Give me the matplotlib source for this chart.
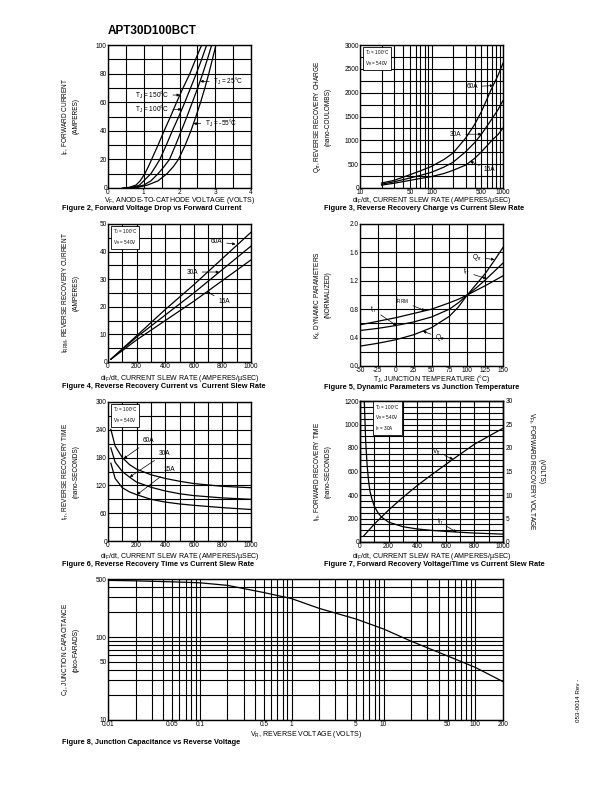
import matplotlib
matplotlib.use("Agg")
import matplotlib.pyplot as plt
from matplotlib.ticker import MultipleLocator, FixedLocator, LogLocator, NullFormatter, FuncFormatter

plt.rcParams['font.family'] = ['Liberation Sans', 'DejaVu Sans']
plt.rcParams['mathtext.fontset'] = 'custom'
plt.rcParams['mathtext.rm'] = 'Liberation Sans'
plt.rcParams['mathtext.it'] = 'Liberation Sans:italic'
plt.rcParams['axes.unicode_minus'] = False

# ---- Figure 2: forward voltage vs forward current ----
if_pts = [0, 0.5, 2, 5, 10, 15, 20, 30, 40, 50, 60, 70, 80, 90, 100]
vf_150 = [0.40, 0.60, 0.78, 0.90, 1.03, 1.13, 1.22, 1.40, 1.57, 1.75, 1.92, 2.10, 2.29, 2.45, 2.62]
vf_100 = [0.45, 0.68, 0.88, 1.00, 1.20, 1.33, 1.45, 1.63, 1.80, 1.98, 2.15, 2.31, 2.47, 2.62, 2.76]
vf_25 = [0.50, 0.76, 1.00, 1.20, 1.40, 1.57, 1.72, 1.89, 2.05, 2.21, 2.36, 2.51, 2.65, 2.78, 2.90]
vf_m55 = [0.55, 0.84, 1.10, 1.40, 1.65, 1.83, 1.97, 2.16, 2.32, 2.46, 2.59, 2.71, 2.82, 2.92, 3.02]

# ---- Figure 3: Qrr vs di/dt ----
slew_q = [20, 30, 50, 70, 100, 150, 200, 300, 400, 500, 700, 850, 1000]
qrr_60 = [105, 160, 279, 360, 453, 600, 733, 1046, 1330, 1605, 2100, 2360, 2620]
qrr_30 = [80, 130, 210, 265, 330, 440, 540, 760, 950, 1130, 1450, 1640, 1835]
qrr_15 = [60, 100, 160, 200, 240, 305, 370, 480, 620, 760, 1000, 1120, 1256]

# ---- Figure 4: IRRM vs di/dt ----
slew_i = [20, 200, 400, 600, 800, 1000]
irrm_60 = [1, 9.5, 19, 28, 37.5, 47]
irrm_30 = [1, 9, 17, 25, 33.5, 42]
irrm_15 = [1, 8, 15, 22, 29.5, 37]

# ---- Figure 5: dynamic parameters vs junction temperature ----
tj = [-50, -25, 0, 25, 50, 75, 87.5, 100, 112.5, 125, 137.5, 150]
kf_qrr = [0.28, 0.32, 0.37, 0.44, 0.54, 0.70, 0.83, 1.0, 1.15, 1.30, 1.48, 1.67]
kf_trr = [0.50, 0.53, 0.57, 0.62, 0.69, 0.80, 0.89, 1.0, 1.10, 1.21, 1.33, 1.45]
kf_irrm = [0.58, 0.63, 0.68, 0.74, 0.80, 0.89, 0.94, 1.0, 1.065, 1.13, 1.20, 1.27]

# ---- Figure 6: trr vs di/dt ----
slew_t = [20, 50, 100, 150, 200, 300, 400, 500, 600, 800, 1000]
trr_60 = [241, 205, 180, 165, 155, 143, 135, 129, 124, 118, 115]
trr_30 = [201, 170, 150, 138, 127, 116, 108, 102, 98, 93, 90]
trr_15 = [168, 135, 115, 106, 100, 90, 84, 80, 77, 72, 68]

# ---- Figure 7: forward recovery ----
slew_tfr = [30, 40, 50, 60, 70, 85, 100, 125, 150, 200, 300, 400, 500, 600, 800, 1000]
tfr = [1200, 850, 650, 520, 430, 360, 305, 250, 212, 169, 130, 111, 99, 90, 76, 67]
slew_vfr = [23, 100, 150, 200, 300, 400, 500, 650, 800, 1000]
vfr = [1.2, 3.8, 5.3, 6.8, 9.5, 12.0, 14.3, 17.6, 20.8, 24.2]

# ---- Figure 8: junction capacitance vs reverse voltage ----
vr = [0.01, 0.02, 0.05, 0.1, 0.2, 0.5, 1, 2, 5, 10, 20, 50, 100, 200]
cj = [481, 475, 462, 450, 419, 343, 290, 221, 165, 125, 89, 59, 43, 29]

W, H = 612, 792
fig = plt.figure(figsize=(W / 100, H / 100), dpi=100)
FS = 4.7


def add_ax(l, t, r, b):
    return fig.add_axes([l / W, 1 - b / H, (r - l) / W, (b - t) / H])


def style(ax):
    for s in ax.spines.values():
        s.set_linewidth(1.0)
    ax.grid(True, which='both', color='k', lw=0.8)
    ax.set_axisbelow(True)
    ax.tick_params(which='both', length=0, labelsize=FS, pad=0.8)


def lin(ax, xmaj, xmin, ymaj, ymin):
    ax.xaxis.set_major_locator(MultipleLocator(xmaj))
    ax.xaxis.set_minor_locator(MultipleLocator(xmin))
    ax.yaxis.set_major_locator(MultipleLocator(ymaj))
    ax.yaxis.set_minor_locator(MultipleLocator(ymin))


def ylab(x, ax, text, rot=90):
    pos = ax.get_position()
    fig.text(x / W, (pos.y0 + pos.y1) / 2, text, rotation=rot, ha='center', va='center',
             fontsize=FS, linespacing=1.3)


def xlab(y, ax, text):
    pos = ax.get_position()
    fig.text((pos.x0 + pos.x1) / 2, 1 - y / H, text, ha='center', va='center', fontsize=5.0)


def caption(x, y, text):
    fig.text(x / W, 1 - y / H, text, ha='left', va='center', fontsize=5.3, fontweight='bold')


def box(ax, x, y, text):
    ax.text(x, y, text, transform=ax.transAxes, fontsize=3.3, va='top', ha='left', zorder=5,
            linespacing=1.25, bbox=dict(boxstyle='square,pad=0.4', fc='white', ec='k', lw=0.6))


def note(ax, text, xy, xytext, ha='left'):
    ax.annotate(text, xy=xy, xytext=xytext, fontsize=FS, ha=ha, va='center', zorder=6,
                arrowprops=dict(arrowstyle='-|>', lw=0.5, color='k', mutation_scale=4,
                                shrinkA=1, shrinkB=0))


LW = 0.9
fig.text(108 / W, 1 - 31 / H, "APT30D100BCT", fontsize=8.5, fontweight='bold', va='center')

# Figure 2
ax2 = add_ax(108, 45, 251, 188)
style(ax2)
for v in [vf_150, vf_100, vf_25, vf_m55]:
    ax2.plot(v, if_pts, color='k', lw=LW)
ax2.set_xlim(0, 4)
ax2.set_ylim(0, 100)
lin(ax2, 1, 0.5, 20, 10)
note(ax2, "T$_\\mathrm{J}$ = 25°C", (2.58, 74.6), (2.95, 74.6))
note(ax2, "T$_\\mathrm{J}$ = 150°C", (2.01, 65), (1.70, 65), ha='right')
note(ax2, "T$_\\mathrm{J}$ = 100°C", (2.06, 55), (1.70, 55), ha='right')
note(ax2, "T$_\\mathrm{J}$ = -55°C", (2.39, 45), (2.71, 45))
ylab(70, ax2, "I$_\\mathrm{F}$, FORWARD CURRENT\n(AMPERES)")
xlab(200, ax2, "V$_\\mathrm{F}$, ANODE-TO-CATHODE VOLTAGE (VOLTS)")
caption(62, 209, "Figure 2, Forward Voltage Drop vs Forward Current")

# Figure 3
ax3 = add_ax(360, 45, 503, 188)
style(ax3)
for q in [qrr_60, qrr_30, qrr_15]:
    ax3.plot(slew_q, q, color='k', lw=LW)
ax3.set_xscale('log')
ax3.set_xlim(10, 1000)
ax3.set_ylim(0, 3000)
ax3.xaxis.set_major_locator(FixedLocator([10, 50, 100, 500, 1000]))
ax3.xaxis.set_major_formatter(FuncFormatter(lambda v, p: f"{v:g}"))
ax3.xaxis.set_minor_locator(LogLocator(base=10, subs=range(2, 10)))
ax3.xaxis.set_minor_formatter(NullFormatter())
ax3.yaxis.set_major_locator(MultipleLocator(500))
ax3.yaxis.set_minor_locator(MultipleLocator(250))
box(ax3, 0.035, 0.975, "T$_\\mathrm{J}$ = 100°C\nV$_\\mathrm{R}$ = 540V")
note(ax3, "60A", (731, 2150), (310, 2125))
note(ax3, "30A", (503, 1130), (181, 1126))
note(ax3, "15A", (347, 560), (530, 378))
ylab(322, ax3, "Q$_\\mathrm{rr}$, REVERSE RECOVERY CHARGE\n(nano-COULOMBS)")
xlab(200.5, ax3, "di$_\\mathrm{F}$/dt, CURRENT SLEW RATE (AMPERES/µSEC)")
caption(324, 209, "Figure 3, Reverse Recovery Charge vs Current Slew Rate")

# Figure 4
ax4 = add_ax(108, 224, 251, 362)
style(ax4)
for i in [irrm_60, irrm_30, irrm_15]:
    ax4.plot(slew_i, i, color='k', lw=LW)
ax4.set_xlim(0, 1000)
ax4.set_ylim(0, 50)
lin(ax4, 200, 100, 10, 5)
box(ax4, 0.035, 0.975, "T$_\\mathrm{J}$ = 100°C\nV$_\\mathrm{R}$ = 540V")
note(ax4, "60A", (892, 42.7), (720, 43.5))
note(ax4, "30A", (777, 32.6), (548, 32.6))
note(ax4, "15A", (690, 25.5), (770, 22))
ylab(70, ax4, "I$_\\mathrm{RRM}$, REVERSE RECOVERY CURRENT\n(AMPERES)")
xlab(378, ax4, "di$_\\mathrm{F}$/dt, CURRENT SLEW RATE (AMPERES/µSEC)")
caption(62, 387, "Figure 4, Reverse Recovery Current vs  Current Slew Rate")

# Figure 5
ax5 = add_ax(360, 224, 503, 366)
style(ax5)
for k in [kf_qrr, kf_trr, kf_irrm]:
    ax5.plot(tj, k, color='k', lw=LW)
ax5.set_xlim(-50, 150)
ax5.set_ylim(0, 2.0)
lin(ax5, 25, 25, 0.4, 0.2)
ax5.yaxis.set_major_formatter(FuncFormatter(lambda v, p: f"{v:.1f}"))
note(ax5, "Q$_\\mathrm{rr}$", (138, 1.50), (106, 1.53))
note(ax5, "t$_\\mathrm{rr}$", (127, 1.23), (94, 1.32))
note(ax5, "I$_\\mathrm{RRM}$", (41, 0.78), (-1, 0.91))
note(ax5, "t$_\\mathrm{rr}$", (1, 0.57), (-36, 0.79))
note(ax5, "Q$_\\mathrm{rr}$", (38, 0.49), (55, 0.40))
ylab(322, ax5, "K$_\\mathrm{f}$, DYNAMIC PARAMETERS\n(NORMALIZED)")
xlab(379, ax5, "T$_\\mathrm{J}$, JUNCTION TEMPERATURE (°C)")
caption(324, 388, "Figure 5, Dynamic Parameters vs Junction Temperature")

# Figure 6
ax6 = add_ax(108, 402, 251, 541)
style(ax6)
for t in [trr_60, trr_30, trr_15]:
    ax6.plot(slew_t, t, color='k', lw=LW)
ax6.set_xlim(0, 1000)
ax6.set_ylim(0, 300)
lin(ax6, 200, 100, 60, 30)
box(ax6, 0.035, 0.975, "T$_\\mathrm{J}$ = 100°C\nV$_\\mathrm{R}$ = 540V")
note(ax6, "60A", (110, 178), (244, 216))
note(ax6, "30A", (152, 138), (352, 188))
note(ax6, "15A", (203, 100), (391, 154))
ylab(70, ax6, "t$_\\mathrm{rr}$, REVERSE RECOVERY TIME\n(nano-SECONDS)")
xlab(556, ax6, "di$_\\mathrm{F}$/dt, CURRENT SLEW RATE (AMPERES/µSEC)")
caption(62, 565, "Figure 6, Reverse Recovery Time vs Current Slew Rate")

# Figure 7
ax7 = add_ax(360, 401, 503, 542)
style(ax7)
ax7.plot(slew_tfr, tfr, color='k', lw=LW)
ax7.set_xlim(0, 1000)
ax7.set_ylim(0, 1200)
lin(ax7, 200, 100, 200, 50)
ax7b = ax7.twinx()
ax7b.plot(slew_vfr, vfr, color='k', lw=LW)
ax7b.set_ylim(0, 30)
ax7b.yaxis.set_major_locator(MultipleLocator(5))
ax7b.tick_params(length=0, labelsize=FS, pad=2.0)
for s in ax7b.spines.values():
    s.set_linewidth(1.0)
box(ax7, 0.105, 0.985, "T$_\\mathrm{J}$ = 100°C\nV$_\\mathrm{R}$ = 540V\nI$_\\mathrm{F}$ = 30A")
note(ax7b, "V$_\\mathrm{fr}$", (651, 17.6), (500, 19.2))
note(ax7b, "t$_\\mathrm{fr}$", (675, 2.1), (535, 4.2))
ylab(322, ax7, "t$_\\mathrm{fr}$, FORWARD RECOVERY TIME\n(nano-SECONDS)")
ylab(531, ax7, "V$_\\mathrm{Fr}$, FORWARD RECOVERY VOLTAGE", rot=270)
ylab(541, ax7, "(VOLTS)", rot=270)
xlab(556, ax7, "di$_\\mathrm{F}$/dt, CURRENT SLEW RATE (AMPERES/µSEC)")
caption(324, 565, "Figure 7, Forward Recovery Voltage/Time vs Current Slew Rate")

# Figure 8
ax8 = add_ax(108, 579, 503, 720)
style(ax8)
ax8.plot(vr, cj, color='k', lw=LW)
ax8.set_xscale('log')
ax8.set_yscale('log')
ax8.set_xlim(0.01, 200)
ax8.set_ylim(10, 500)
ax8.xaxis.set_major_locator(FixedLocator([0.01, 0.05, 0.1, 0.5, 1, 5, 10, 50, 100, 200]))
ax8.xaxis.set_major_formatter(FuncFormatter(lambda v, p: f"{v:g}"))
ax8.xaxis.set_minor_locator(LogLocator(base=10, subs=range(2, 10)))
ax8.xaxis.set_minor_formatter(NullFormatter())
ax8.yaxis.set_major_locator(FixedLocator([10, 50, 100, 500]))
ax8.yaxis.set_major_formatter(FuncFormatter(lambda v, p: f"{v:g}"))
ax8.yaxis.set_minor_locator(LogLocator(base=10, subs=range(2, 10)))
ax8.yaxis.set_minor_formatter(NullFormatter())
ylab(70, ax8, "C$_\\mathrm{J}$, JUNCTION CAPACITANCE\n(pico-FARADS)")
xlab(734, ax8, "V$_\\mathrm{R}$, REVERSE VOLTAGE (VOLTS)")
caption(62, 743, "Figure 8, Junction Capacitance vs Reverse Voltage")

fig.text(578 / W, 1 - 700 / H, "053-0014 Rev -", rotation=90, ha='center', va='center', fontsize=4.5)

fig.savefig("out.png", dpi=100)
